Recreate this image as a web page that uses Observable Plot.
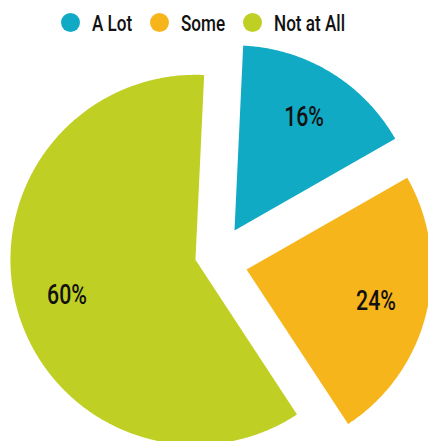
<!DOCTYPE html>
<html><head><meta charset="utf-8">
<script src="https://cdn.jsdelivr.net/npm/d3@7"></script>
<script src="https://cdn.jsdelivr.net/npm/@observablehq/plot@0.6"></script>
<style>
html,body{margin:0;padding:0;background:#fff;overflow:hidden;}
#legend{height:44px;display:flex;align-items:center;padding-left:61px;font-family:Roboto,"Liberation Sans",sans-serif;font-weight:500;font-size:22.5px;color:#111;box-sizing:border-box;}
.item{display:flex;align-items:center;margin-right:18px;}
.sw{width:19px;height:19px;border-radius:50%;margin-right:12px;flex:none;}
.lab{display:inline-block;transform:scaleX(0.76);transform-origin:0 50%;white-space:nowrap;line-height:1;padding-top:3px;}
</style></head><body>
<div id="legend"></div>
<div id="chart"></div>
<script>
// ---- data ----
const categories = ["A Lot", "Some", "Not at All"];
const values = [16, 24, 60];
const labels = ["16%", "24%", "60%"];
const colors = ["#10aac5", "#f7b51c", "#c0cf24"];

// ---- layout (pie geometry in radius units) ----
const startAngle = 2.7 * Math.PI / 180;
const explodeOffsets = [[0.074, -0.121], [0.139, 0.090], [-0.137, 0.038]];
const labelRadius = 0.72;
const textScale = 0.76;

const total = d3.sum(values);
const points = [];
const labelData = [];
let cum = 0;
categories.forEach((cat, i) => {
  const a0 = startAngle + cum / total * 2 * Math.PI;
  cum += values[i];
  const a1 = startAngle + cum / total * 2 * Math.PI;
  const [ox, oy] = explodeOffsets[i];
  points.push({cat, x: ox, y: oy});
  const n = Math.max(8, Math.ceil((a1 - a0) / (Math.PI / 360)));
  for (let k = 0; k <= n; k++) {
    const a = a0 + (a1 - a0) * k / n;
    points.push({cat, x: ox + Math.sin(a), y: oy - Math.cos(a)});
  }
  const m = (a0 + a1) / 2;
  labelData.push({cat, label: labels[i], x: ox + labelRadius * Math.sin(m), y: oy - labelRadius * Math.cos(m)});
});

const chart = Plot.plot({
  width: 428,
  height: 397,
  margin: 0,
  style: {background: "#fff"},
  x: {domain: [-1, 1], range: [35.3, 405.3], axis: null},
  y: {domain: [-1, 1], range: [23.3, 393.3], axis: null},
  color: {domain: categories, range: colors},
  marks: [
    Plot.line(points, {x: "x", y: "y", z: "cat", fill: "cat", stroke: "none", curve: "linear-closed"}),
    Plot.text(labelData, {x: "x", y: "y", text: "label", fontSize: 28, fontWeight: 500, fill: "#111", fontFamily: "Roboto, 'Liberation Sans', sans-serif"})
  ]
});
chart.querySelectorAll("text").forEach(t => {
  const tr = t.getAttribute("transform") || "";
  if (t.hasAttribute("x")) t.setAttribute("x", +t.getAttribute("x") / textScale);
  t.setAttribute("transform", tr + ` scale(${textScale},1)`);
});
document.getElementById("chart").appendChild(chart);

// ---- legend ----
const legend = d3.select("#legend");
categories.forEach((c, i) => {
  const it = legend.append("div").attr("class", "item");
  it.append("div").attr("class", "sw").style("background", colors[i]);
  it.append("span").attr("class", "lab").text(c);
});
legend.selectAll(".lab").each(function() {
  const w = this.getBoundingClientRect().width / textScale;
  this.style.marginRight = (-(1 - textScale) * w) + "px";
});
</script>
</body></html>
